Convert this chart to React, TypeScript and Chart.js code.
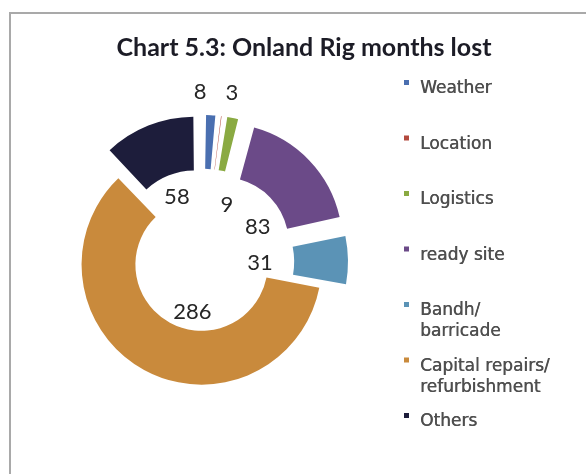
import React, { useEffect, useRef } from "react";
import { Chart, registerables } from "chart.js";

Chart.register(...registerables);

// ---- data ----
const TITLE = "Chart 5.3: Onland Rig months lost";
const categories = [
  "Weather",
  "Location",
  "Logistics",
  "ready site",
  "Bandh/ barricade",
  "Capital repairs/ refurbishment",
  "Others",
];
const legendLines = [
  ["Weather"],
  ["Location"],
  ["Logistics"],
  ["ready site"],
  ["Bandh/", "barricade"],
  ["Capital repairs/", "refurbishment"],
  ["Others"],
];
const values = [8, 3, 9, 83, 31, 286, 58];
const valueLabels = ["8", "3", "9", "83", "31", "286", "58"];

// ---- styles ----
const colors = ["#4a6fb0", "#b34a3e", "#8aaa42", "#6b4a88", "#5b93b6", "#c98a3c", "#1d1d3b"];
const EXPLODE_PX = [30, 30, 30, 30, 28, 6, 30];
// label placement: r = fraction of outer radius from chart centre, a = degrees added to slice mid-angle
const LABEL_POS = [
  { r: 1.45, a: -4 },
  { r: 1.47, a: 2.5 },
  { r: 0.53, a: 11 },
  { r: 0.556, a: 11 },
  { r: 0.487, a: 1.7 },
  { r: 0.436, a: -16.7 },
  { r: 0.6, a: 0 },
];

const total = values.reduce((s, v) => s + v, 0);
const offsets = values.map((v, i) => {
  const circ = (v / total) * Math.PI * 2;
  const fix = 1 - Math.sin(Math.min(Math.PI, circ));
  return (4 * EXPLODE_PX[i]) / (1 + fix);
});

const decorPlugin = {
  id: "decor",
  beforeDraw(chart: any) {
    const { ctx, width, height } = chart;
    ctx.save();
    ctx.fillStyle = "#ffffff";
    ctx.fillRect(0, 0, width, height);
    ctx.strokeStyle = "#a9a9a9";
    ctx.lineWidth = 2;
    ctx.beginPath();
    ctx.moveTo(10, height);
    ctx.lineTo(10, 13);
    ctx.lineTo(width, 13);
    ctx.stroke();
    ctx.restore();
  },
  afterDatasetsDraw(chart: any) {
    const { ctx } = chart;
    const meta = chart.getDatasetMeta(0);
    ctx.save();
    ctx.font = "22px Lato";
    ctx.fillStyle = "#262626";
    ctx.textAlign = "center";
    ctx.textBaseline = "middle";
    meta.data.forEach((arc: any, i: number) => {
      const p = arc.getProps(["x", "y", "startAngle", "endAngle", "outerRadius"], true);
      const mid = (p.startAngle + p.endAngle) / 2 + (LABEL_POS[i].a * Math.PI) / 180;
      const rr = p.outerRadius * LABEL_POS[i].r;
      ctx.fillText(valueLabels[i], p.x + Math.cos(mid) * rr, p.y + Math.sin(mid) * rr);
    });
    ctx.restore();
  },
  afterDraw(chart: any) {
    const { ctx, chartArea } = chart;
    ctx.save();
    // title
    ctx.font = "bold 25px Lato";
    ctx.fillStyle = "#1c1c26";
    ctx.textAlign = "center";
    ctx.textBaseline = "alphabetic";
    ctx.fillText(TITLE, 304, 56);
    // legend
    const x0 = chartArea.right;
    ctx.font = "17px 'DejaVu Sans'";
    ctx.textAlign = "left";
    ctx.textBaseline = "middle";
    legendLines.forEach((lines, i) => {
      const y = 89 + 55.5 * i;
      ctx.fillStyle = colors[i];
      ctx.fillRect(x0 - 2, y - 9, 5, 5);
      ctx.fillStyle = "#4f4f4f";
      lines.forEach((t, j) => {
        ctx.fillText(t, x0 + 14, y + j * 21);
        ctx.fillText(t, x0 + 14.4, y + j * 21);
      });
    });
    ctx.restore();
  },
};

export default function App() {
  const ref = useRef<HTMLCanvasElement | null>(null);
  useEffect(() => {
    if (!ref.current) return;
    const chart = new Chart(ref.current, {
      type: "doughnut",
      data: {
        labels: categories,
        datasets: [
          {
            data: values,
            backgroundColor: colors,
            borderWidth: 0,
            offset: offsets,
            hoverOffset: 0,
          } as any,
        ],
      },
      options: {
        animation: false,
        responsive: true,
        maintainAspectRatio: false,
        radius: 117,
        cutout: "54%",
        events: [],
        layout: { padding: { left: 0, right: 180, top: 50, bottom: 0 } },
        plugins: {
          legend: { display: false },
          title: { display: false },
          tooltip: { enabled: false },
        },
      } as any,
      plugins: [decorPlugin],
    });
    return () => chart.destroy();
  }, []);
  return (
    <div style={{ position: "absolute", left: 0, top: 0, width: 586, height: 474, background: "#fff" }}>
      <canvas ref={ref} />
    </div>
  );
}
